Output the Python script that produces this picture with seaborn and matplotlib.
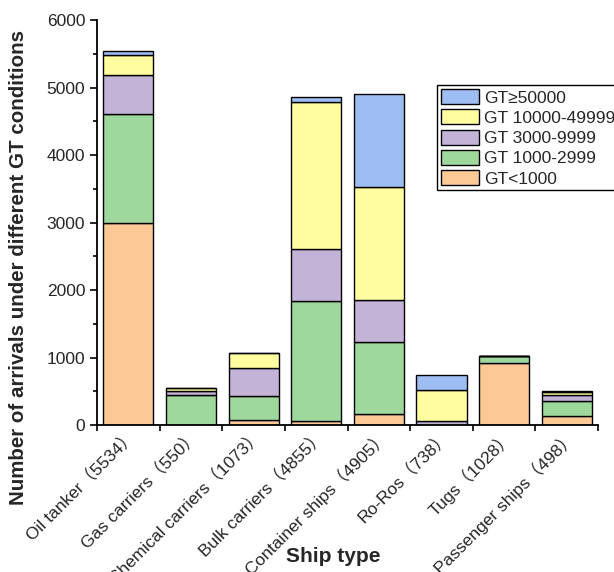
import matplotlib
matplotlib.use("Agg")
import matplotlib.pyplot as plt
from matplotlib.ticker import MultipleLocator, FixedLocator
from matplotlib.patches import Patch
import numpy as np
import seaborn as sns

ships = ["Oil tanker（5534）", "Gas carriers（550）", "Chemical carriers（1073）",
         "Bulk carriers（4855）", "Container ships（4905）", "Ro-Ros（738）",
         "Tugs（1028）", "Passenger ships（498）"]

gt_lt_1000 = [3000, 0, 80, 60, 164, 0, 915, 139]
gt_1000_2999 = [1608, 445, 350, 1781, 1066, 0, 110, 218]
gt_3000_9999 = [578, 65, 415, 765, 621, 65, 3, 93]
gt_10000_49999 = [296, 35, 228, 2176, 1677, 454, 0, 38]
gt_ge_50000 = [52, 5, 0, 73, 1377, 219, 0, 10]

layer_names = ["GT<1000", "GT 1000-2999", "GT 3000-9999", "GT 10000-49999", "GT≥50000"]
layers = [gt_lt_1000, gt_1000_2999, gt_3000_9999, gt_10000_49999, gt_ge_50000]
colors = ["#FCC896", "#9FD89C", "#C3B3D7", "#FFFD9F", "#9DBDF3"]

sns.set_theme(style="ticks")
plt.rcParams["font.family"] = ["Liberation Sans", "Noto Sans CJK SC", "DejaVu Sans"]

fig = plt.figure(figsize=(6.14, 5.72), dpi=100)
ax = fig.add_axes([0.158, 0.257, 0.816, 0.708])

bottom = np.zeros(len(ships))
for name, vals, col in zip(layer_names, layers, colors):
    sns.barplot(x=ships, y=vals, bottom=bottom, color=col, edgecolor="black",
                linewidth=1.0, width=0.8, saturation=1, ax=ax, label=name)
    bottom = bottom + np.array(vals)

ax.set_xlim(-0.5, len(ships) - 0.5)
ax.set_ylim(0, 6000)
ax.yaxis.set_major_locator(MultipleLocator(1000))
ax.yaxis.set_minor_locator(MultipleLocator(500))

# category labels sit at bar centres; tick marks sit on the category boundaries
ax.xaxis.set_major_locator(FixedLocator(np.arange(len(ships))))
ax.set_xticklabels(ships, rotation=45, ha="right", rotation_mode="anchor",
                   fontsize=12.5)
ax.tick_params(axis="x", which="major", length=0, pad=2)
ax.xaxis.set_minor_locator(FixedLocator(np.arange(-0.5, len(ships), 1.0)))
ax.tick_params(axis="x", which="minor", length=4, width=1.2, color="black",
               direction="out")

ax.tick_params(axis="y", which="major", length=5, width=1.2, labelsize=12.5,
               color="black", direction="out")
ax.tick_params(axis="y", which="minor", length=3, width=1.2, color="black",
               direction="out")

for side in ("top", "right"):
    ax.spines[side].set_visible(False)
for side in ("left", "bottom"):
    ax.spines[side].set_linewidth(1.3)
    ax.spines[side].set_color("black")

ax.set_xlabel("Ship type", fontsize=15, fontweight="bold")
ax.xaxis.set_label_coords(0.471, -0.302)
ax.set_ylabel("Number of arrivals under different GT conditions", fontsize=14.8,
              fontweight="bold")
ax.yaxis.set_label_coords(-0.138, 0.388)

handles = [Patch(facecolor=c, edgecolor="black", linewidth=1.0, label=n)
           for n, c in zip(layer_names, colors)][::-1]
leg = ax.legend(handles=handles, loc="upper left",
                bbox_to_anchor=(0.712, 0.851), bbox_transform=fig.transFigure,
                borderaxespad=0, fontsize=12.5, frameon=True, fancybox=False,
                framealpha=1, edgecolor="black", handlelength=2.2,
                handleheight=0.95, handletextpad=0.3, labelspacing=0.22,
                borderpad=0.22)
leg.get_frame().set_linewidth(1.0)

fig.savefig("out.png", dpi=100)
